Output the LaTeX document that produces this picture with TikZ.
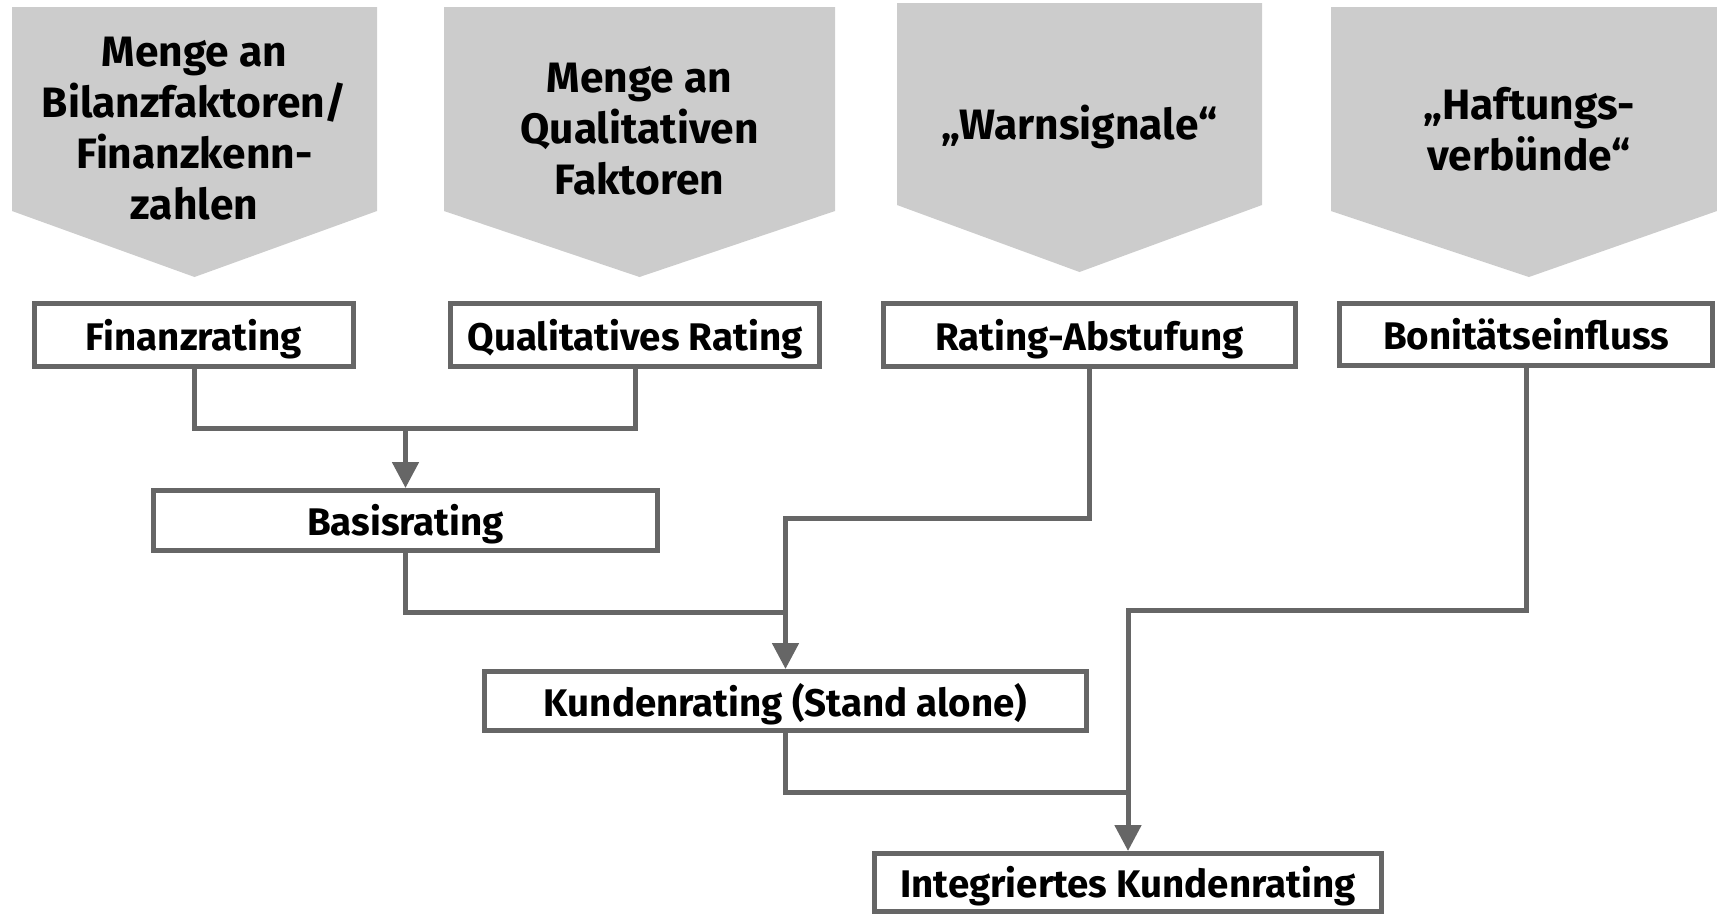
\documentclass[tikz,border=0pt]{standalone}
\usepackage{fontspec}
\setmainfont{Fira Sans}
\usetikzlibrary{arrows.meta}
\definecolor{lgray}{HTML}{CCCCCC}
\definecolor{dgray}{HTML}{666666}
\begin{document}
\begin{tikzpicture}[x=1pt,y=-1pt,
  pent/.style={fill=lgray,draw=none},
  ptext/.style={font=\fontsize{42.5}{51}\selectfont\bfseries, align=center, text=black, inner sep=0pt},
  rbox/.style={draw=dgray, line width=5pt, fill=white, inner sep=0pt,
    text height=36pt, text depth=6pt,
    font=\fontsize{38.5}{43}\selectfont\bfseries, text=black},
  conn/.style={draw=dgray, line width=5pt},
  arr/.style={conn, -{Triangle[width=26pt,length=26pt]}}
]
\useasboundingbox (0,0) rectangle (1717,914);

% pentagons
\fill[pent] (12,7) -- (377,7) -- (377,211) -- (194.5,277) -- (12,211) -- cycle;
\fill[pent] (444,7) -- (835,7) -- (835,211) -- (639.5,277) -- (444,211) -- cycle;
\fill[pent] (897,3) -- (1262,3) -- (1262,205) -- (1079.5,272) -- (897,205) -- cycle;
\fill[pent] (1331,7) -- (1717,7) -- (1717,211) -- (1529,277) -- (1331,211) -- cycle;

\node[ptext] (p1) at (194.5,129) {Menge an\\Bilanzfaktoren/\\Finanzkenn-\\zahlen};
\node[ptext] (p2) at (639.5,129) {Menge an\\Qualitativen\\Faktoren};
\node[ptext] (p3) at (1079.5,127) {„Warnsignale“};
\node[ptext] (p4) at (1529,129) {„Haftungs-\\verbünde“};

% boxes
\node[rbox, minimum width=319pt, minimum height=63pt] (fin) at (194,335) {Finanzrating};
\node[rbox, minimum width=369pt, minimum height=63pt] (qual) at (635,335) {Qualitatives Rating};
\node[rbox, minimum width=412pt, minimum height=63pt] (abst) at (1089.5,335) {Rating-Abstufung};
\node[rbox, minimum width=373pt, minimum height=62pt] (bon) at (1526,334.5) {Bonitätseinfluss};
\node[rbox, minimum width=504pt, minimum height=60pt] (basis) at (405.5,520.5) {Basisrating};
\node[rbox, minimum width=602pt, minimum height=59pt] (kunden) at (785.5,701) {Kundenrating (Stand alone)};
\node[rbox, minimum width=507pt, minimum height=58pt] (integ) at (1128,882.5) {Integriertes Kundenrating};

% joints
\coordinate (j1) at (405.5,428);
\coordinate (j2) at (785.5,518);
\coordinate (j3) at (785.5,612);
\coordinate (j4) at (1128,610);
\coordinate (j5) at (1128,792);

% connectors
\draw[conn] (fin.south) -- (fin.south |- j1) -- (qual.south |- j1) -- (qual.south);
\draw[arr] (j1) -- (basis.north);
\draw[arr] (abst.south) |- (j2) -- (kunden.north);
\draw[conn] (basis.south) |- (j3);
\draw[arr] (bon.south) |- (j4) -- (integ.north);
\draw[conn] (kunden.south) |- (j5);
\end{tikzpicture}
\end{document}
